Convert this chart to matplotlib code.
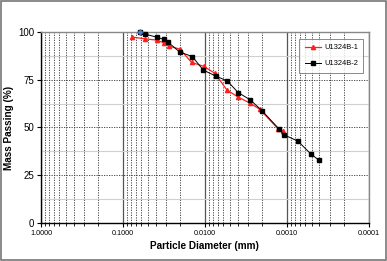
import numpy as np
import matplotlib.pyplot as plt
from matplotlib.ticker import FixedLocator, LogLocator, NullFormatter

plt.rcParams['font.family'] = ['Liberation Sans', 'DejaVu Sans']

# U1324B-1 (red, triangles)
d1 = [0.0769, 0.0544, 0.0389, 0.0319, 0.0277, 0.0202, 0.01455, 0.01038,
      0.00755, 0.0054, 0.00392, 0.0028, 0.00215, 0.00128, 0.0011]
p1 = [97.4, 96.5, 95.8, 94.4, 92.7, 91.1, 84.1, 82.1,
      78.4, 69.7, 65.9, 62.7, 59.6, 49.3, 48.1]

# U1324B-2 (black, squares)
d2 = [0.0615, 0.054, 0.0385, 0.0319, 0.028, 0.0202, 0.01426, 0.01047,
      0.00741, 0.00534, 0.00392, 0.0028, 0.0020, 0.00125, 0.00109,
      0.000735, 0.000509, 0.000407]
p2 = [100, 99.0, 97.3, 96.2, 94.6, 89.5, 87.2, 80.1,
      77.0, 74.4, 68.3, 64.5, 58.7, 49.3, 46.2,
      42.9, 36.1, 32.9]

xticks = [1.0, 0.1, 0.01, 0.001, 0.0001]
xlabels = ['1.0000', '0.1000', '0.0100', '0.0010', '0.0001']
yticks = [0, 25, 50, 75, 100]

fig = plt.figure(figsize=(3.87, 2.61), dpi=100)
ax = fig.add_axes([0.106, 0.146, 0.847, 0.731])

ax.set_xscale('log')
ax.set_xlim(1.0, 0.0001)
ax.set_ylim(0, 100)

# grid
ax.xaxis.set_major_locator(FixedLocator(xticks))
ax.xaxis.set_minor_locator(LogLocator(base=10, subs=np.arange(2, 10)))
ax.xaxis.set_minor_formatter(NullFormatter())
ax.set_xticks(xticks)
ax.set_xticklabels(xlabels)
ax.set_yticks(yticks)
ax.set_yticks(np.arange(12.5, 100, 25), minor=True)

ax.grid(which='major', axis='x', color='#555555', lw=0.9, ls='-')
ax.grid(which='minor', axis='x', color='#333333', lw=0.6, ls=(0, (1.5, 1.5)))
ax.grid(which='major', axis='y', color='#333333', lw=0.6, ls=(0, (1.5, 1.5)))
ax.grid(which='minor', axis='y', color='#d0d0d0', lw=0.8, ls='-')
ax.set_axisbelow(True)

ax.plot(d1, p1, color='#ff2020', lw=0.9, marker='^', ms=3.0, label='U1324B-1',
        zorder=3, clip_on=False)
ax.plot(d2, p2, color='black', lw=0.7, marker='s', ms=2.4, label='U1324B-2',
        zorder=4, clip_on=False)
ax.plot(d2[:1], p2[:1], ls='none', marker='D', ms=3, color='#4f7fbf',
        markeredgecolor='#2f4f8f', markeredgewidth=0.4, zorder=5, clip_on=False)

ax.tick_params(axis='x', which='major', labelsize=5.2, length=3, width=0.8, direction='out', pad=2)
ax.tick_params(axis='x', which='minor', length=2, width=0.6, direction='out')
ax.tick_params(axis='y', which='major', labelsize=7, length=3, width=0.8, direction='out', pad=2)
ax.tick_params(axis='y', which='minor', length=0)

for s in ['left', 'bottom']:
    ax.spines[s].set_color('black')
    ax.spines[s].set_linewidth(1.0)
for s in ['top', 'right']:
    ax.spines[s].set_color('#888888')
    ax.spines[s].set_linewidth(1.0)

ax.set_xlabel('Particle Diameter (mm)', fontsize=7.2, fontweight='bold', labelpad=3)
ax.set_ylabel('Mass Passing (%)', fontsize=7.2, fontweight='bold', labelpad=3)

leg = ax.legend(loc='upper right', bbox_to_anchor=(0.995, 0.985), fontsize=5.4,
                frameon=True, fancybox=False, edgecolor='#555555',
                handlelength=2.2, borderpad=0.7, labelspacing=1.2, handletextpad=0.4)
leg.get_frame().set_linewidth(0.6)

# outer chart border
fig.patches.append(plt.Rectangle((0.003, 0.004), 0.994, 0.992, transform=fig.transFigure,
                                 fill=False, edgecolor='#777777', lw=1.2))

fig.savefig('out.png', dpi=100)
